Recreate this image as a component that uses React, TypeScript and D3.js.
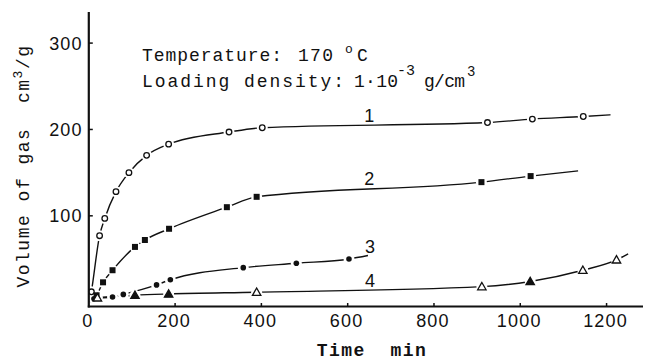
import * as d3 from "d3";

// Gas volume vs time, four curves
type Pt = { t: number; v: number; m: string };

const series1: Pt[] = [
  { t: 2, v: 0, m: "" }, { t: 6, v: 12, m: "o" }, { t: 25, v: 77, m: "o" }, { t: 37, v: 97, m: "o" },
  { t: 63, v: 128, m: "o" }, { t: 93, v: 150, m: "o" }, { t: 134, v: 170, m: "o" }, { t: 185, v: 183, m: "o" },
  { t: 325, v: 197, m: "o" }, { t: 402, v: 202, m: "o" }, { t: 924, v: 208, m: "o" }, { t: 1028, v: 212, m: "o" },
  { t: 1146, v: 215, m: "o" }, { t: 1209, v: 217, m: "" },
];
const series2: Pt[] = [
  { t: 4, v: 0, m: "" }, { t: 18, v: 8, m: "s" }, { t: 33, v: 23, m: "s" }, { t: 55, v: 37, m: "s" },
  { t: 107, v: 64, m: "s" }, { t: 130, v: 72, m: "s" }, { t: 186, v: 85, m: "s" }, { t: 320, v: 110, m: "s" },
  { t: 389, v: 122, m: "s" }, { t: 910, v: 139, m: "s" }, { t: 1024, v: 146, m: "s" }, { t: 1134, v: 152, m: "" },
];
const series3: Pt[] = [
  { t: 3, v: 0, m: "" }, { t: 12, v: 4, m: "d" }, { t: 55, v: 6, m: "d" }, { t: 80, v: 9, m: "d" },
  { t: 157, v: 20, m: "d" }, { t: 189, v: 26, m: "d" }, { t: 358, v: 40, m: "d" }, { t: 481, v: 45, m: "d" },
  { t: 603, v: 50, m: "d" }, { t: 647, v: 54, m: "" },
];
const series4: Pt[] = [
  { t: 3, v: 0, m: "" }, { t: 20, v: 5, m: "t" }, { t: 107, v: 8, m: "T" }, { t: 185, v: 9.5, m: "T" },
  { t: 389, v: 11.5, m: "t" }, { t: 911, v: 18, m: "t" }, { t: 1023, v: 24, m: "T" }, { t: 1145, v: 37, m: "t" },
  { t: 1223, v: 49, m: "t" }, { t: 1250, v: 56, m: "" },
];
const allSeries = [series1, series2, series3, series4];

const curveLabels = ["1", "2", "3", "4"];
const curveLabelPos = [
  { t: 650, v: 209 }, { t: 650, v: 136 }, { t: 652, v: 57 }, { t: 652, v: 18 },
];

const xTicks = [0, 200, 400, 600, 800, 1000, 1200];
const yTicks = [100, 200, 300];

const W = 645;
const H = 362;
const INK = "#111";
const MONO = "'Liberation Mono', 'DejaVu Sans Mono', monospace";
const SANS = "'Liberation Sans', Arial, sans-serif";

export default function App() {
  const x = d3.scaleLinear().domain([0, 1290]).range([88.8, 645.4]);
  const y = d3.scaleLinear().domain([-5, 336]).range([306.5, 12]);
  const line = d3.line<Pt>().x(d => x(d.t)).y(d => y(d.v)).curve(d3.curveMonotoneX);

  const marker = (d: Pt, i: number) => {
    const cx = x(d.t), cy = y(d.v);
    if (d.m === "o") return <circle key={i} cx={cx} cy={cy} r={2.8} fill="#fff" stroke={INK} strokeWidth={1.3} />;
    if (d.m === "s") return <rect key={i} x={cx - 3} y={cy - 3} width={6} height={6} fill={INK} />;
    if (d.m === "d") return <circle key={i} cx={cx} cy={cy} r={2.8} fill={INK} />;
    const s = 4.2;
    const pts = `${cx},${cy - s} ${cx - s},${cy + s * 0.75} ${cx + s},${cy + s * 0.75}`;
    return <polygon key={i} points={pts} fill={d.m === "T" ? INK : "#fff"} stroke={INK} strokeWidth={1.3} />;
  };

  const mono = { fontFamily: MONO, fontSize: 18, fill: INK } as const;

  return (
    <div style={{ position: "fixed", left: 0, top: 0, width: W, height: H, background: "#fff" }}>
      <svg width={W} height={H} style={{ display: "block" }}>
        {/* curves */}
        {allSeries.map((s, i) => (
          <path key={i} d={line(s) || ""} fill="none" stroke={INK} strokeWidth={1.4} />
        ))}
        {/* white gaps around markers */}
        {allSeries.map((s, i) => (
          <g key={i}>
            {s.filter(d => d.m).map((d, j) => (
              <circle key={j} cx={x(d.t)} cy={y(d.v)} r={5.5} fill="#fff" />
            ))}
          </g>
        ))}
        {allSeries.map((s, i) => (
          <g key={i}>{s.filter(d => d.m).map(marker)}</g>
        ))}

        {/* axes */}
        <line x1={x(0)} y1={y(336)} x2={x(0)} y2={y(-5) + 1} stroke={INK} strokeWidth={2.2} />
        <line x1={x(0) - 1} y1={y(-5)} x2={643} y2={y(-5)} stroke={INK} strokeWidth={2.2} />
        {yTicks.map(t => (
          <g key={t}>
            <line x1={x(0)} x2={x(0) + 4} y1={y(t)} y2={y(t)} stroke={INK} strokeWidth={1.5} />
            <text x={x(0) - 6} y={y(t) + 6.5} textAnchor="end" fontFamily={SANS} fontSize={18}
              letterSpacing={1.2} fill={INK}>{t}</text>
          </g>
        ))}
        {xTicks.map(t => (
          <g key={t}>
            {t > 0 && <line x1={x(t)} x2={x(t)} y1={y(-5)} y2={y(-5) - 3.5} stroke={INK} strokeWidth={1.5} />}
            <text x={x(t) - 1} y={326.5} textAnchor="middle" fontFamily={SANS} fontSize={18}
              letterSpacing={1.2} fill={INK}>{t}</text>
          </g>
        ))}

        {/* curve numbers */}
        {curveLabels.map((l, i) => (
          <text key={l} x={x(curveLabelPos[i].t)} y={y(curveLabelPos[i].v)} textAnchor="middle"
            fontFamily={SANS} fontSize={18} fill={INK}>{l}</text>
        ))}

        {/* annotations */}
        <text x={142} y={61} {...mono} textLength={140} lengthAdjust="spacing">Temperature:</text>
        <text x={298} y={61} {...mono} textLength={35} lengthAdjust="spacing">170</text>
        <text x={345} y={53} {...mono} fontSize={13}>o</text>
        <text x={357} y={61} {...mono}>C</text>

        <text x={142} y={87} {...mono} textLength={202} lengthAdjust="spacing">Loading density:</text>
        <text x={354} y={87} {...mono} textLength={44} lengthAdjust="spacing">1·10</text>
        <text x={397} y={75} {...mono} fontSize={15}>-3</text>
        <text x={424} y={87} {...mono} textLength={41} lengthAdjust="spacing">g/cm</text>
        <text x={467} y={76} {...mono} fontSize={14}>3</text>

        {/* axis titles */}
        <text transform="translate(29,166) rotate(-90)" textAnchor="middle" xmlSpace="preserve"
          {...mono} letterSpacing={1.5} style={{ whiteSpace: "pre" }}>
          {"Volume of gas  cm"}<tspan dy={-7} fontSize={13}>3</tspan><tspan dy={7}>/g</tspan>
        </text>
        <text x={372} y={356} textAnchor="middle" {...mono} fontWeight="bold"
          letterSpacing={1.5} style={{ whiteSpace: "pre" }}>
          {"Time  min"}
        </text>
      </svg>
    </div>
  );
}
